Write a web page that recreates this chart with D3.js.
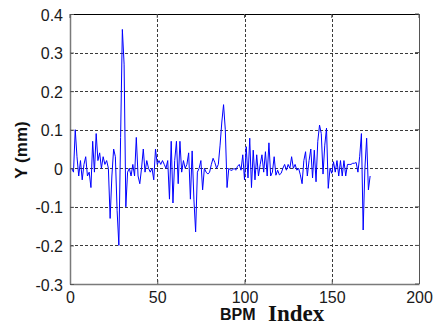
<!DOCTYPE html>
<html>
<head>
<meta charset="utf-8">
<script src="https://cdn.jsdelivr.net/npm/d3@7"></script>
<style>
  body { margin: 0; background: #fff; }
  svg { display: block; }
</style>
</head>
<body>
<svg id="chart" width="435" height="326"></svg>
<script>
// BPM orbit deviation, index 1..172
const bpmIndex = d3.range(1, 173);
const yValues = [
  0.00, -0.01, 0.10, 0.03, -0.02, 0.02, -0.03, 0.01, 0.03, -0.02,
  -0.01, -0.05, 0.07, -0.01, 0.09, 0.02, 0.04, 0.00, 0.03, 0.01,
  0.02, 0.00, -0.13, -0.02, 0.05, 0.03, -0.11, -0.20, 0.08, 0.36,
  0.27, -0.10, -0.01, 0.00, -0.02, 0.01, -0.02, 0.08, -0.02, -0.04,
  0.00, 0.05, -0.01, 0.02, 0.00, -0.01, 0.00, -0.03, 0.05, 0.01,
  0.02, 0.01, 0.02, 0.01, 0.00, 0.02, -0.08, 0.07, -0.09, 0.02,
  0.07, -0.04, 0.07, -0.01, 0.02, 0.00, 0.01, 0.04, -0.08, 0.045,
  -0.08, -0.165, -0.01, 0.00, 0.02, -0.056, 0.00, -0.01, -0.015, -0.01,
  0.01, 0.026, 0.015, 0.00, 0.01, 0.06, 0.12, 0.165, 0.10, -0.05,
  0.00, -0.005, -0.005, 0.00, -0.005, 0.005, 0.01, -0.005, 0.035, -0.03,
  0.056, -0.025, 0.078, -0.05, 0.047, -0.03, 0.035, -0.02, 0.01, 0.035,
  -0.01, 0.043, -0.02, 0.066, -0.02, -0.01, 0.03, -0.018, -0.005, -0.017,
  -0.013, 0.00, 0.01, -0.005, 0.01, 0.00, 0.03, 0.00, 0.01, -0.005,
  0.00, -0.017, -0.04, 0.02, 0.043, -0.02, 0.02, 0.05, -0.025, 0.047,
  -0.035, 0.07, 0.112, 0.09, -0.015, 0.06, 0.104, -0.052, 0.00, -0.013,
  0.017, -0.01, 0.02, -0.02, 0.02, -0.02, 0.02, -0.02, 0.01, 0.01,
  0.01, 0.013, 0.013, 0.015, -0.01, 0.03, 0.09, -0.16, 0.00, 0.078,
  -0.056, -0.02
];

const xTicks = [0, 50, 100, 150, 200];
const yTicks = [-0.3, -0.2, -0.1, 0, 0.1, 0.2, 0.3, 0.4];
const yTickLabels = ["-0.3", "-0.2", "-0.1", "0", "0.1", "0.2", "0.3", "0.4"];

const plotL = 70, plotR = 419, plotT = 14, plotB = 284;

const svg = d3.select("#chart");

const x = d3.scaleLinear().domain([0, 200]).range([plotL, plotR]);
const y = d3.scaleLinear().domain([-0.3, 0.4]).range([plotB, plotT]);

// dashed grid
const grid = svg.append("g").attr("stroke", "#3a3a3a")
  .attr("stroke-dasharray", "3,2").attr("stroke-width", 1);
grid.selectAll(".vg").data(xTicks.slice(1, -1)).enter().append("line")
  .attr("x1", d => Math.round(x(d)) + 0.5).attr("x2", d => Math.round(x(d)) + 0.5)
  .attr("y1", plotT).attr("y2", plotB);
grid.selectAll(".hg").data(yTicks.slice(1, -1)).enter().append("line")
  .attr("y1", d => Math.round(y(d)) + 0.5).attr("y2", d => Math.round(y(d)) + 0.5)
  .attr("x1", plotL).attr("x2", plotR);

// data line
const line = d3.line()
  .x((d, i) => x(bpmIndex[i]))
  .y(d => y(d));

svg.append("path")
  .datum(yValues)
  .attr("fill", "none")
  .attr("stroke", "#0000ff")
  .attr("stroke-width", 1)
  .attr("d", line);

// box: top/right dark, left/bottom gray
svg.append("line").attr("x1", plotL).attr("x2", plotR).attr("y1", plotT + 0.5).attr("y2", plotT + 0.5)
  .attr("stroke", "#000");
svg.append("line").attr("x1", plotR + 0.5).attr("x2", plotR + 0.5).attr("y1", plotT).attr("y2", plotB)
  .attr("stroke", "#555");

const xAxis = d3.axisBottom(x).tickValues(xTicks).tickSize(-4).tickSizeOuter(0)
  .tickPadding(8).tickFormat(d3.format("d"));
const yAxis = d3.axisLeft(y).tickValues(yTicks).tickSize(-4).tickSizeOuter(0)
  .tickPadding(7).tickFormat((d, i) => yTickLabels[i]);

const gx = svg.append("g").attr("transform", `translate(0,${plotB})`).call(xAxis);
const gy = svg.append("g").attr("transform", `translate(${plotL},0)`).call(yAxis);

[gx, gy].forEach(g => {
  g.select(".domain").attr("stroke", "#7a7a7a").attr("stroke-width", 1.5);
  g.selectAll(".tick line").attr("stroke", "#555");
  g.selectAll(".tick text")
    .attr("fill", "#1a1a1a")
    .style("font-family", "'Liberation Sans', Arial, sans-serif")
    .style("font-size", "16px");
});
gy.selectAll(".tick text").attr("dy", "0.38em");

// right and top ticks
svg.append("g").selectAll("line").data(yTicks).enter().append("line")
  .attr("x1", plotR - 4).attr("x2", plotR)
  .attr("y1", d => y(d)).attr("y2", d => y(d)).attr("stroke", "#555");
svg.append("g").selectAll("line").data(xTicks).enter().append("line")
  .attr("y1", plotT).attr("y2", plotT + 4)
  .attr("x1", d => x(d)).attr("x2", d => x(d)).attr("stroke", "#555");

// axis titles
svg.append("text")
  .attr("x", 220).attr("y", 320)
  .style("font-family", "'Liberation Sans', Arial, sans-serif")
  .style("font-weight", "bold").style("font-size", "16px")
  .attr("fill", "#111")
  .text("BPM");
svg.append("text")
  .attr("x", 268).attr("y", 321)
  .style("font-family", "'Liberation Serif', 'Times New Roman', serif")
  .style("font-weight", "bold").style("font-size", "23px")
  .attr("fill", "#111")
  .text("Index");

svg.append("text")
  .attr("transform", "translate(27,150) rotate(-90)")
  .attr("text-anchor", "middle")
  .style("font-family", "'Liberation Sans', Arial, sans-serif")
  .style("font-weight", "bold").style("font-size", "17px")
  .attr("fill", "#111")
  .text("Y (mm)");
</script>
</body>
</html>
